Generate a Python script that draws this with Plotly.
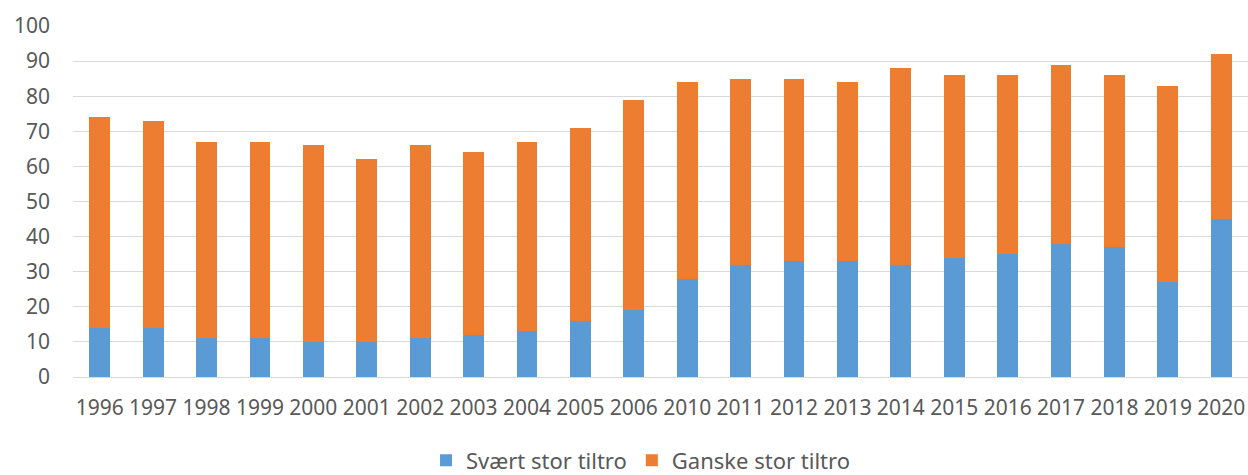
import plotly.graph_objects as go

years = ["1996", "1997", "1998", "1999", "2000", "2001", "2002", "2003", "2004", "2005", "2006",
         "2010", "2011", "2012", "2013", "2014", "2015", "2016", "2017", "2018", "2019", "2020"]
totals = [74, 73, 67, 67, 66, 62, 66, 64, 67, 71, 79,
          84, 85, 85, 84, 88, 86, 86, 89, 86, 83, 92]
svaert = [14, 14, 11, 11, 10, 10, 11, 12, 13, 16, 19,
          28, 32, 33, 33, 32, 34, 35, 38, 37, 27, 45]
ganske = [t - s for t, s in zip(totals, svaert)]

blue = "#5B9BD5"
orange = "#ED7D31"
font_color = "#595959"
font_family = "Noto Sans, Open Sans, sans-serif"

fig = go.Figure()
fig.add_trace(go.Bar(x=years, y=svaert, name="Svært stor tiltro", marker_color=blue,
                     marker_line_width=0))
fig.add_trace(go.Bar(x=years, y=ganske, name="Ganske stor tiltro", marker_color=orange,
                     marker_line_width=0))

fig.update_layout(
    barmode="stack",
    bargap=0.61,
    width=1248,
    height=475,
    margin=dict(l=73, r=0, t=26, b=98, autoexpand=False),
    plot_bgcolor="white",
    paper_bgcolor="white",
    font=dict(family=font_family, color=font_color, size=21),
    showlegend=True,
    legend=dict(orientation="h", x=0.483, xanchor="center", y=-0.238, yanchor="middle",
                font=dict(size=22, color=font_color), traceorder="normal",
                itemsizing="constant", tracegroupgap=0, itemwidth=30),
)
fig.update_xaxes(type="category", showgrid=False, showline=False, zeroline=False,
                 tickfont=dict(size=21, color=font_color), ticklabelstandoff=16)
fig.update_yaxes(range=[0, 100], dtick=10, showgrid=True, gridcolor="#D9D9D9", gridwidth=1,
                 zeroline=True, zerolinecolor="#D9D9D9", zerolinewidth=1, showline=False,
                 tickfont=dict(size=21, color=font_color), ticklabelstandoff=22)

fig.write_html("out.html",
               config={"displayModeBar": False},
               post_script="document.body.style.margin='0';document.body.style.overflow='hidden';")
